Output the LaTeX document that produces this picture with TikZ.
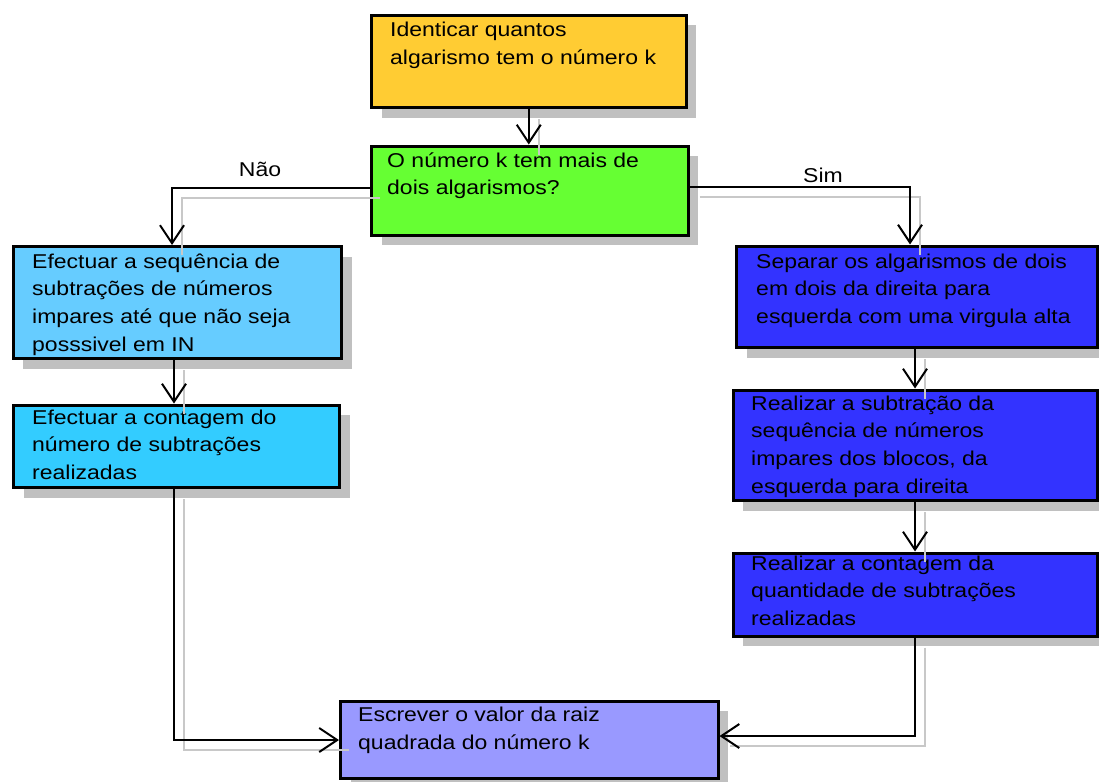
\documentclass[tikz,border=0pt]{standalone}
\usepackage{fontspec}
\setmainfont{Liberation Sans}[FakeStretch=1.15]
\usetikzlibrary{arrows.meta,shadows,calc}
\definecolor{cOrange}{HTML}{FFCC33}
\definecolor{cGreen}{HTML}{66FF33}
\definecolor{cSky}{HTML}{66CCFF}
\definecolor{cCyan}{HTML}{33CCFF}
\definecolor{cBlue}{HTML}{3333FF}
\definecolor{cLav}{HTML}{9999FF}
\definecolor{cShadow}{HTML}{C0C0C0}
\definecolor{cLineShadow}{HTML}{C8C8C8}
\newcommand{\btxt}[1]{\parbox[t]{400pt}{\fontsize{20}{27.7}\selectfont\raggedright #1}}
\begin{document}
\begin{tikzpicture}[x=1pt,y=-1pt,
  flowbox/.style={draw=black, line width=3pt, inner sep=0pt, anchor=north west,
    drop shadow={shadow xshift=10pt, shadow yshift=-10pt, fill=cShadow, opacity=1}},
  btext/.style={anchor=base west, inner sep=0pt, text=black},
  conn/.style={draw=black, line width=2pt, line join=miter,
    -{Straight Barb[length=18pt,width=24pt]}},
  connshadow/.style={draw=cLineShadow, line width=2pt,
    transform canvas={xshift=10pt, yshift=-10pt}},
  lbl/.style={inner sep=0pt, font=\fontsize{20}{24}\selectfont}]
\useasboundingbox (0,0) rectangle (1099,781);

% boxes
\node[flowbox, fill=cOrange, minimum width=314.5pt, minimum height=92.5pt] (b1) at (370,14) {};
\node[flowbox, fill=cGreen, minimum width=316.5pt, minimum height=89pt] (b2) at (370,144.5) {};
\node[flowbox, fill=cSky, minimum width=328.5pt, minimum height=112pt] (b3) at (11.5,245) {};
\node[flowbox, fill=cCyan, minimum width=326pt, minimum height=82.5pt] (b4) at (12,403.5) {};
\node[flowbox, fill=cBlue, minimum width=360.5pt, minimum height=101.5pt] (b5) at (735,244.5) {};
\node[flowbox, fill=cBlue, minimum width=364pt, minimum height=110.5pt] (b6) at (731.5,388.5) {};
\node[flowbox, fill=cBlue, minimum width=364pt, minimum height=83pt] (b7) at (731.5,551.5) {};
\node[flowbox, fill=cLav, minimum width=377.5pt, minimum height=77.5pt] (b8) at (339,699.5) {};

% texts
\node[btext] (t1) at (390,37) {\btxt{Identicar quantos\\algarismo tem o número k}};
\node[btext] (t2) at (387,167) {\btxt{O número k tem mais de\\dois algarismos?}};
\node[btext] (t3) at (32,268) {\btxt{Efectuar a sequência de\\subtrações de números\\impares até que não seja\\posssivel em IN}};
\node[btext] (t4) at (32,424) {\btxt{Efectuar a contagem do\\número de subtrações\\realizadas}};
\node[btext] (t5) at (756,268) {\btxt{Separar os algarismos de dois\\em dois da direita para\\esquerda com uma virgula alta}};
\node[btext] (t6) at (751,410) {\btxt{Realizar a subtração da\\sequência de números\\impares dos blocos, da\\esquerda para direita}};
\node[btext] (t7) at (751,570) {\btxt{Realizar a contagem da\\quantidade de subtrações\\realizadas}};
\node[btext] (t8) at (358,721.5) {\btxt{Escrever o valor da raiz\\quadrada do número k}};

% coordinates for connector bends
\coordinate (nbend) at (172,188);
\coordinate (sbend) at (910,187);
\coordinate (lbend) at (174,740);
\coordinate (rbend) at (915,736);

% connector shadows
\draw[connshadow] (b1.south) -- (b1.south |- b2.north);
\draw[connshadow] (b2.west |- nbend) -- (nbend) -- (nbend |- b3.north);
\draw[connshadow] (b2.east |- sbend) -- (sbend) -- (sbend |- b5.north);
\draw[connshadow] (b3.south -| lbend) -- (b4.north -| lbend);
\draw[connshadow] (b5.south -| rbend) -- (b6.north -| rbend);
\draw[connshadow] (b6.south -| rbend) -- (b7.north -| rbend);
\draw[connshadow] (b4.south -| lbend) -- (lbend) -- (lbend -| b8.west);
\draw[connshadow] (b7.south -| rbend) -- (rbend) -- (rbend -| b8.east);

% connectors
\draw[conn] (b1.south) -- (b1.south |- b2.north);
\draw[conn] (b2.west |- nbend) -- (nbend) -- (nbend |- b3.north);
\draw[conn] (b2.east |- sbend) -- (sbend) -- (sbend |- b5.north);
\draw[conn] (b3.south -| lbend) -- (b4.north -| lbend);
\draw[conn] (b5.south -| rbend) -- (b6.north -| rbend);
\draw[conn] (b6.south -| rbend) -- (b7.north -| rbend);
\draw[conn] (b4.south -| lbend) -- (lbend) -- (lbend -| b8.west);
\draw[conn] (b7.south -| rbend) -- (rbend) -- (rbend -| b8.east);

% labels
\node[lbl] (lnao) at (260,169) {Não};
\node[lbl] (lsim) at (823,175) {Sim};
\end{tikzpicture}
\end{document}
